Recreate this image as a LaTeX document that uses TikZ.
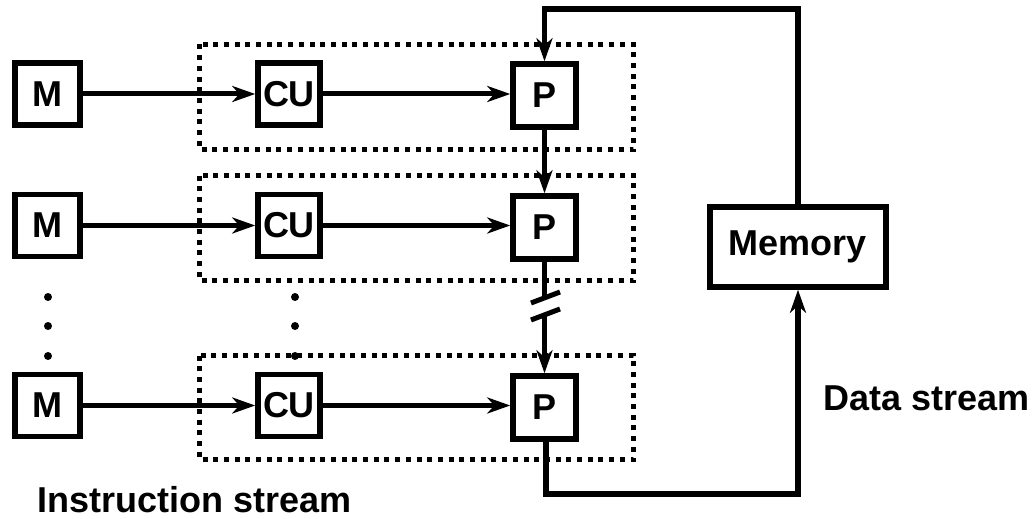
\documentclass[tikz,border=0pt]{standalone}
\usepackage{fontspec}
\setmainfont{Liberation Sans}
\usetikzlibrary{arrows.meta,calc}
\begin{document}
\begin{tikzpicture}[x=1pt,y=-1pt,
  font=\bfseries\fontsize{36}{42}\selectfont,
  box/.style={draw,line width=5.5pt,inner sep=0pt,minimum height=62pt},
  mbox/.style={box,minimum width=65pt},
  cubox/.style={box,minimum width=62pt},
  pbox/.style={box,minimum width=63pt,minimum height=63pt},
  arr/.style={line width=5pt,-{Stealth[length=23pt,width=16pt,inset=7pt]}},
  feed/.style={line width=5.5pt,-{Stealth[length=23pt,width=16pt,inset=7pt]}},
  dotbox/.style={line width=5pt,dash pattern=on 5pt off 5.7pt},
  lbl/.style={font=\bfseries\fontsize{36}{42}\selectfont,inner sep=0pt}]
\useasboundingbox (0,0) rectangle (1034,519);
% dotted groups
\draw[dotbox] (199.5,44.5) rectangle (633.5,149.5);
\draw[dotbox] (199.5,175.5) rectangle (633.5,280.5);
\draw[dotbox] (199.5,355.5) rectangle (633.5,459.5);
% boxes
\node[mbox] (m1) at (47.5,94) {M};
\node[mbox] (m2) at (47.5,225.5) {M};
\node[mbox] (m3) at (47.5,405.5) {M};
\node[cubox] (cu1) at (289,94) {CU};
\node[cubox] (cu2) at (289,225.5) {CU};
\node[cubox] (cu3) at (289,405.5) {CU};
\node[pbox] (p1) at (544.5,95.5) {P};
\node[pbox] (p2) at (544.5,227.5) {P};
\node[pbox] (p3) at (544.5,407.5) {P};
\node[draw,line width=5.5pt,minimum width=176pt,minimum height=80pt,inner sep=0pt] (mem) at (798,247) {Memory};
% horizontal arrows
\foreach \i in {1,2,3}{
  \draw[arr] (m\i) -- (cu\i);
  \draw[arr] (cu\i) -- (cu\i -| p\i.west);
}
% vertical arrows between P
\draw[arr] (p1) -- (p2);
\draw[arr] (p2) -- (p3);
% break symbol
\coordinate (b1) at (531,303);
\coordinate (b2) at (560,292);
\coordinate (b3) at (531,320);
\coordinate (b4) at (560,309);
\fill[white] ($(b1)+(0,2)$) -- ($(b2)+(0,2)$) -- ($(b4)+(0,-2)$) -- ($(b3)+(0,-2)$) -- cycle;
\draw[line width=5pt] (b1) -- (b2);
\draw[line width=5pt] (b3) -- (b4);
% feedback loop
\coordinate (top) at (544.5,9);
\coordinate (bot) at (546,494);
\draw[feed] (mem.north) |- (top) -- (p1.north);
\draw[feed] (p3.south -| bot) -- (bot) -| (mem.south);
% dots
\foreach \y in {297,326,356}{
  \fill (48,\y) circle (4);
  \fill (295,\y) circle (4);
}
% labels
\node[lbl,anchor=base west] (ds) at (823,410) {Data stream};
\node[lbl,anchor=base west] (is) at (37,512) {Instruction stream};
\end{tikzpicture}
\end{document}
